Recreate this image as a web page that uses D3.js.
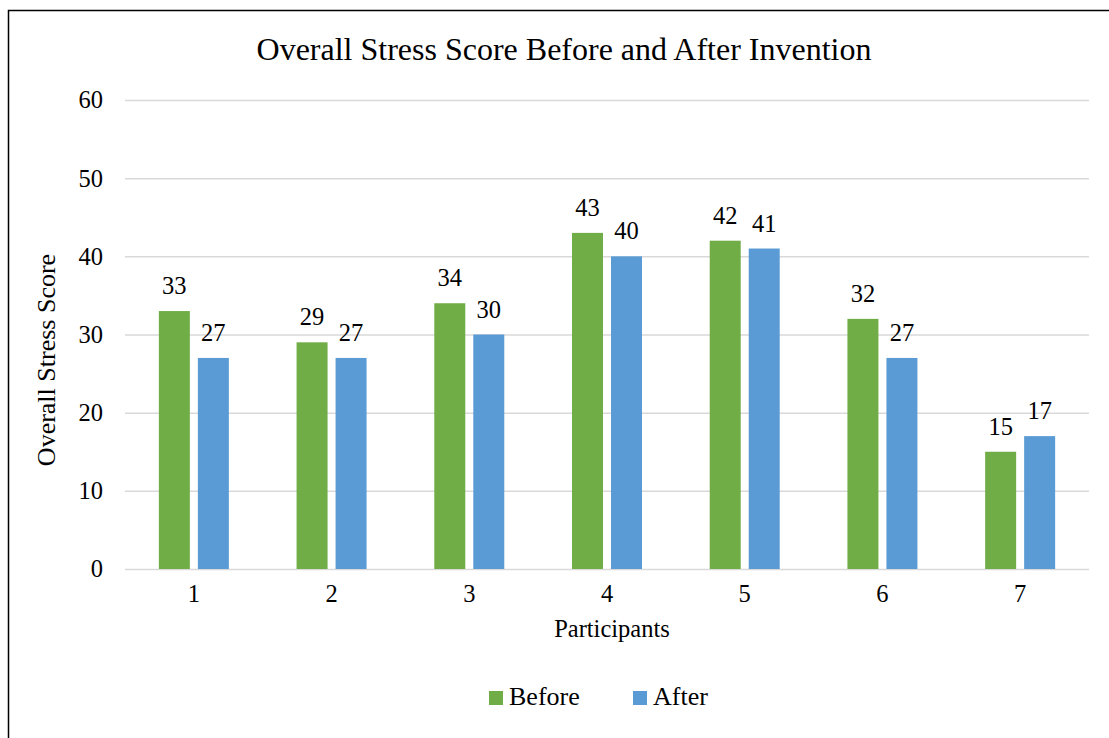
<!DOCTYPE html>
<html>
<head>
<meta charset="utf-8">
<script src="https://cdn.jsdelivr.net/npm/d3@7"></script>
<style>
  html, body { margin: 0; padding: 0; background: #fff; }
  svg { display: block; font-family: "Liberation Serif", "Times New Roman", serif; }
  svg text { font-family: "Liberation Serif", "Times New Roman", serif; fill: #000; }
</style>
</head>
<body>
<svg id="chart" width="1109" height="738"></svg>
<script>
// Stress scores per participant
const participants = ["1", "2", "3", "4", "5", "6", "7"];
const before = [33, 29, 34, 43, 42, 32, 15];
const after = [27, 27, 30, 40, 41, 27, 17];
const seriesNames = ["Before", "After"];
const seriesColors = ["#70AD47", "#5B9BD5"];
const yTicks = [0, 10, 20, 30, 40, 50, 60];

const FONT = "'Liberation Serif', 'Times New Roman', serif";
const LABEL_SIZE = "24.5px";
const svg = d3.select("#chart");
const W = 1109, H = 738;

// frame: open to the right and bottom
svg.append("path")
  .attr("d", `M8.5,${H} V10.5 H${W}`)
  .attr("fill", "none")
  .attr("stroke", "#000")
  .attr("stroke-width", 1.5);

const plot = { left: 125, right: 1089, top: 100, bottom: 569 };

const x = d3.scaleBand().domain(participants).range([plot.left, plot.right]);
const y = d3.scaleLinear().domain([0, 60]).range([plot.bottom, plot.top]);

// gridlines
svg.append("g")
  .selectAll("line")
  .data(yTicks)
  .join("line")
  .attr("x1", plot.left).attr("x2", plot.right)
  .attr("y1", d => y(d) + 0.5).attr("y2", d => y(d) + 0.5)
  .attr("stroke", "#d9d9d9")
  .attr("stroke-width", 1.5);

// y axis labels
const yAxis = d3.axisLeft(y).tickValues(yTicks).tickSize(0).tickPadding(22);
svg.append("g")
  .attr("transform", `translate(${plot.left},0)`)
  .call(yAxis)
  .attr("font-family", FONT)
  .call(g => g.select(".domain").remove())
  .selectAll("text")
  .style("font-family", FONT)
  .style("font-size", LABEL_SIZE)
  .attr("fill", "#000");

// x axis labels
const xAxis = d3.axisBottom(x).tickSize(0);
svg.append("g")
  .attr("transform", `translate(0,${plot.bottom})`)
  .call(xAxis)
  .attr("font-family", FONT)
  .call(g => g.select(".domain").remove())
  .selectAll("text")
  .attr("y", 33)
  .attr("dy", null)
  .style("font-family", FONT)
  .style("font-size", LABEL_SIZE)
  .attr("fill", "#000");

// bars
const barW = 31, gap = 8;
const rows = participants.map((p, i) => ({ p, vals: [before[i], after[i]] }));

const groups = svg.append("g").selectAll("g")
  .data(rows)
  .join("g")
  .attr("transform", d => `translate(${x(d.p) + x.bandwidth() / 2 - (2 * barW + gap) / 2},0)`);

groups.selectAll("rect")
  .data(d => d.vals.map((v, k) => ({ v, k })))
  .join("rect")
  .attr("x", d => d.k * (barW + gap))
  .attr("width", barW)
  .attr("y", d => y(d.v))
  .attr("height", d => y(0) - y(d.v))
  .attr("fill", d => seriesColors[d.k]);

groups.selectAll("text.val")
  .data(d => d.vals.map((v, k) => ({ v, k })))
  .join("text")
  .attr("class", "val")
  .attr("x", d => d.k * (barW + gap) + barW / 2)
  .attr("y", d => y(d.v) - 17)
  .attr("text-anchor", "middle")
  .style("font-family", FONT)
  .style("font-size", LABEL_SIZE)
  .text(d => d.v);

// title
svg.append("text")
  .attr("x", 564).attr("y", 60)
  .attr("text-anchor", "middle")
  .style("font-family", FONT)
  .style("font-size", "32px")
  .text("Overall Stress Score Before and After Invention");

// axis titles
svg.append("text")
  .attr("transform", `translate(55,360) rotate(-90)`)
  .attr("text-anchor", "middle")
  .style("font-family", FONT)
  .style("font-size", "26px")
  .text("Overall Stress Score");

svg.append("text")
  .attr("x", 612).attr("y", 637)
  .attr("text-anchor", "middle")
  .style("font-family", FONT)
  .style("font-size", LABEL_SIZE)
  .text("Participants");

// legend
const legend = svg.append("g");
const legendItems = [
  { name: seriesNames[0], color: seriesColors[0], x: 489 },
  { name: seriesNames[1], color: seriesColors[1], x: 633 }
];
legendItems.forEach(it => {
  legend.append("rect").attr("x", it.x).attr("y", 691).attr("width", 14).attr("height", 14).attr("fill", it.color);
  legend.append("text").attr("x", it.x + 20).attr("y", 705)
    .style("font-family", FONT)
    .style("font-size", "26px")
    .text(it.name);
});
</script>
</body>
</html>
